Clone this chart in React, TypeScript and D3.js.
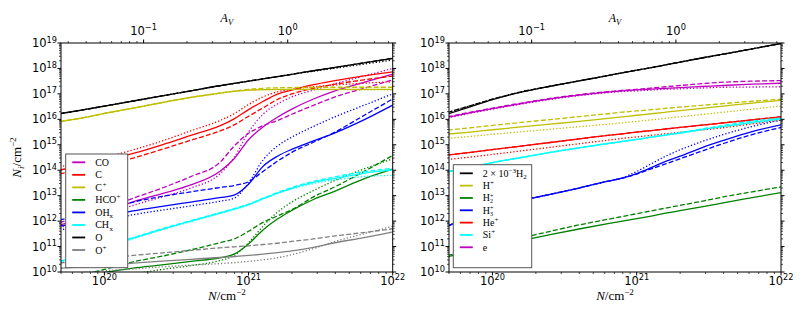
import React from 'react';
import * as d3 from 'd3';

// log10 of total column density N (cm^-2)
const LOG_N = [19.69, 19.85, 20.0, 20.2, 20.4, 20.6, 20.8, 20.9, 21.0, 21.1, 21.2, 21.3, 21.45, 21.6, 21.8, 22.0];

// ---- left panel: log10 N_i for solid / dashed / dotted models ----
const O_S = [16.22,16.37,16.52,16.72,16.92,17.12,17.32,17.41,17.50,17.59,17.68,17.77,17.91,18.04,18.22,18.40];
const O_D = [16.22,16.37,16.52,16.72,16.92,17.12,17.32,17.41,17.50,17.59,17.68,17.77,17.91,18.04,18.22,18.40];
const O_P = [16.22,16.37,16.52,16.72,16.92,17.12,17.32,17.41,17.50,17.59,17.68,17.77,17.89,18.01,18.17,18.33];

const CP_S = [15.91,16.06,16.23,16.44,16.66,16.86,17.03,17.10,17.15,17.17,17.18,17.18,17.18,17.18,17.18,17.18];
const CP_D = [15.91,16.06,16.23,16.44,16.66,16.86,17.03,17.11,17.18,17.22,17.24,17.25,17.26,17.26,17.26,17.26];
const CP_P = [15.91,16.06,16.23,16.44,16.66,16.86,17.03,17.10,17.14,17.16,17.17,17.17,17.17,17.17,17.16,17.16];

const C_S = [14.01,14.18,14.37,14.66,15.00,15.37,15.74,16.02,16.38,16.70,16.99,17.15,17.36,17.52,17.71,17.87];
const C_D = [13.86,14.02,14.20,14.48,14.82,15.18,15.54,15.78,16.12,16.45,16.78,17.00,17.22,17.38,17.55,17.70];
const C_P = [14.14,14.31,14.50,14.80,15.15,15.55,15.95,16.22,16.58,16.88,17.08,17.18,17.28,17.35,17.42,17.48];

const CO_S = [11.85,12.10,12.38,12.76,13.08,13.42,13.95,14.45,15.20,15.70,16.08,16.40,16.80,17.12,17.45,17.78];
const CO_D = [11.95,12.20,12.50,12.90,13.30,13.75,14.30,14.95,15.45,15.75,15.95,16.20,16.55,16.88,17.22,17.55];
const CO_P = [11.75,11.98,12.25,12.62,12.95,13.30,13.85,14.50,15.50,16.20,16.60,16.88,17.15,17.40,17.70,18.00];

const OH_S = [11.80,11.98,12.15,12.40,12.58,12.75,12.92,13.02,13.45,14.15,14.55,14.82,15.15,15.47,15.98,16.56];
const OH_D = [12.05,12.25,12.45,12.75,12.97,13.15,13.32,13.40,13.55,13.95,14.35,14.70,15.10,15.50,16.15,16.80];
const OH_P = [11.65,11.83,12.00,12.25,12.43,12.60,12.78,12.90,13.50,14.40,14.95,15.30,15.72,16.10,16.55,17.00];

const HCO_S = [9.70,9.85,9.98,10.15,10.28,10.42,10.56,10.70,11.10,11.65,12.08,12.42,12.85,13.18,13.66,14.04];
const HCO_D = [9.60,9.88,10.10,10.40,10.62,10.87,11.15,11.30,11.60,11.95,12.20,12.45,12.95,13.35,13.95,14.58];
const HCO_P = [9.30,9.50,9.70,9.92,10.10,10.25,10.45,10.65,11.15,11.80,12.35,12.75,13.20,13.60,14.05,14.45];

const CH_S = [10.40,10.68,10.96,11.33,11.68,12.00,12.31,12.47,12.65,12.88,13.10,13.29,13.52,13.68,13.88,14.01];
const CH_D = [10.42,10.70,10.98,11.35,11.70,12.02,12.33,12.49,12.67,12.90,13.12,13.32,13.56,13.74,13.94,14.07];
const CH_P = [10.38,10.66,10.94,11.31,11.66,11.98,12.29,12.45,12.63,12.86,13.08,13.26,13.48,13.62,13.75,13.80];

const OP_S = [10.15,10.20,10.25,10.35,10.43,10.50,10.57,10.61,10.65,10.70,10.76,10.83,10.97,11.15,11.35,11.58];
const OP_D = [10.35,10.45,10.52,10.65,10.75,10.85,10.95,10.99,11.03,11.08,11.13,11.20,11.30,11.42,11.55,11.70];
const OP_P = [9.90,9.98,10.05,10.12,10.20,10.27,10.33,10.37,10.42,10.48,10.56,10.68,10.92,11.20,11.50,11.80];

// ---- right panel ----
const H2_S = [16.21,16.50,16.77,17.07,17.30,17.51,17.72,17.83,17.93,18.03,18.14,18.25,18.41,18.56,18.77,18.98];
const H2_D = [16.27,16.54,16.79,17.08,17.30,17.51,17.72,17.83,17.93,18.03,18.14,18.25,18.41,18.56,18.77,18.98];
const H2_P = [16.27,16.54,16.79,17.08,17.30,17.51,17.72,17.83,17.93,18.03,18.14,18.25,18.41,18.56,18.77,18.98];

const E_S = [16.08,16.26,16.42,16.62,16.80,16.95,17.07,17.12,17.16,17.19,17.22,17.25,17.29,17.33,17.38,17.42];
const E_D = [16.10,16.28,16.44,16.64,16.82,16.97,17.09,17.14,17.18,17.23,17.28,17.33,17.40,17.46,17.50,17.52];
const E_P = [16.06,16.24,16.40,16.60,16.78,16.93,17.05,17.09,17.12,17.15,17.18,17.20,17.23,17.26,17.27,17.28];

const HP_S = [15.42,15.50,15.59,15.70,15.81,15.92,16.04,16.10,16.16,16.22,16.28,16.34,16.43,16.52,16.64,16.75];
const HP_D = [15.58,15.67,15.76,15.88,15.99,16.11,16.22,16.28,16.33,16.38,16.43,16.48,16.55,16.62,16.71,16.79];
const HP_P = [15.25,15.33,15.41,15.51,15.61,15.71,15.81,15.86,15.92,15.98,16.04,16.10,16.19,16.28,16.40,16.52];

const HEP_S = [14.60,14.70,14.81,14.95,15.09,15.23,15.37,15.43,15.50,15.56,15.62,15.68,15.77,15.86,15.98,16.10];
const HEP_D = [14.60,14.70,14.81,14.95,15.09,15.23,15.37,15.43,15.50,15.56,15.62,15.68,15.77,15.86,15.98,16.10];
const HEP_P = [14.42,14.52,14.62,14.76,14.90,15.04,15.18,15.25,15.31,15.37,15.43,15.49,15.58,15.67,15.82,15.97];

const SIP_S = [13.94,14.12,14.30,14.50,14.70,14.88,15.05,15.13,15.21,15.30,15.38,15.46,15.60,15.72,15.88,16.02];
const SIP_D = [13.94,14.12,14.30,14.50,14.70,14.88,15.05,15.13,15.21,15.30,15.39,15.48,15.62,15.76,15.93,16.05];
const SIP_P = [13.94,14.12,14.30,14.50,14.70,14.88,15.05,15.13,15.21,15.30,15.38,15.46,15.59,15.70,15.85,15.98];

const H3P_S = [11.80,12.20,12.45,12.80,13.05,13.30,13.57,13.69,13.87,14.10,14.35,14.55,14.88,15.17,15.52,15.78];
const H3P_D = [11.80,12.20,12.45,12.80,13.05,13.30,13.57,13.69,13.85,14.05,14.25,14.45,14.75,15.05,15.40,15.68];
const H3P_P = [11.80,12.20,12.45,12.80,13.05,13.30,13.57,13.70,13.95,14.25,14.55,14.80,15.12,15.40,15.72,15.97];

const H2P_S = [10.60,10.80,10.97,11.23,11.47,11.69,11.90,12.00,12.10,12.20,12.31,12.41,12.56,12.72,12.92,13.12];
const H2P_D = [10.65,10.86,11.05,11.33,11.60,11.85,12.07,12.18,12.29,12.40,12.51,12.62,12.78,12.95,13.15,13.35];

// tick values
const Y_MAJOR = [10, 11, 12, 13, 14, 15, 16, 17, 18, 19];
const X_MAJOR = [20, 21, 22];
const AV_MAJOR = [-1, 0];
const AV_FACTOR = 1.87e21;

const COL = {
  m: '#bf00bf', r: '#ff0000', y: '#bfbf00', g: '#008000',
  b: '#0000ff', c: '#00ffff', k: '#000000', gr: '#808080',
};

const LEFT_SERIES = [
  { color: COL.m, s: CO_S, d: CO_D, p: CO_P },
  { color: COL.r, s: C_S, d: C_D, p: C_P },
  { color: COL.y, s: CP_S, d: CP_D, p: CP_P },
  { color: COL.g, s: HCO_S, d: HCO_D, p: HCO_P },
  { color: COL.b, s: OH_S, d: OH_D, p: OH_P },
  { color: COL.c, s: CH_S, d: CH_D, p: CH_P },
  { color: COL.k, s: O_S, d: O_D, p: O_P },
  { color: COL.gr, s: OP_S, d: OP_D, p: OP_P },
];
const RIGHT_SERIES = [
  { color: COL.k, s: H2_S, d: H2_D, p: H2_P },
  { color: COL.y, s: HP_S, d: HP_D, p: HP_P },
  { color: COL.g, s: H2P_S, d: H2P_D, p: null },
  { color: COL.b, s: H3P_S, d: H3P_D, p: H3P_P },
  { color: COL.r, s: HEP_S, d: HEP_D, p: HEP_P },
  { color: COL.c, s: SIP_S, d: SIP_D, p: SIP_P },
  { color: COL.m, s: E_S, d: E_D, p: E_P },
];

const SERIF = '"Liberation Serif", "DejaVu Serif", serif';
const SANS = '"DejaVu Sans", sans-serif';

// legend labels: [main text, subscript, superscript]
const LEFT_LABELS: [string, string, string][] = [
  ['CO', '', ''], ['C', '', ''], ['C', '', '+'], ['HCO', '', '+'],
  ['OH', 'x', ''], ['CH', 'x', ''], ['O', '', ''], ['O', '', '+'],
];
const RIGHT_LABELS: [string, string, string][] = [
  ['2 × 10', '', ''], ['H', '', '+'], ['H', '2', '+'], ['H', '3', '+'],
  ['He', '', '+'], ['Si', '', '+'], ['e', '', ''],
];

function LegendLabel({ x, y, lab, first }: any) {
  const [main, sub, sp] = lab;
  if (first) {
    return (
      <text x={x} y={y} fontFamily={SERIF} fontSize={10}>
        2 × 10<tspan dy={-4} fontSize={7}>−3</tspan><tspan dy={4}>H</tspan><tspan dy={2.5} fontSize={7}>2</tspan>
      </text>
    );
  }
  const w = main.length === 1 ? 7.3 : main === 'He' ? 11.6 : main === 'Si' ? 8.4 : main.length * 7.1;
  const both = sub && sp;
  return (
    <g>
      <text x={x} y={y} fontFamily={SERIF} fontSize={10}>{main}</text>
      {sub ? <text x={x + w} y={y + (both ? 2 : 2.5)} fontFamily={SERIF} fontSize={both ? 6 : 7}>{sub}</text> : null}
      {sp ? <text x={x + w} y={y - (both ? 3.6 : 4)} fontFamily={SERIF} fontSize={both ? 6 : 7}>{sp}</text> : null}
    </g>
  );
}

const Y_TOP = 43;
const Y_BOT = 272;

function Panel({ x0, x1, series, labels, legend, id, firstSpecial }: any) {
  const x = d3.scaleLog().domain([5e19, 1e22]).range([x0, x1]);
  const xa = d3.scaleLog().domain([5e19 / AV_FACTOR, 1e22 / AV_FACTOR]).range([x0, x1]);
  const y = d3.scaleLog().domain([1e10, 1e19]).range([Y_BOT, Y_TOP]);
  const line = d3.line<number>()
    .x((_, i) => x(Math.pow(10, LOG_N[i])))
    .y((v) => y(Math.pow(10, v)))
    .curve(d3.curveMonotoneX);

  const yMinor: number[] = [];
  for (let e = 10; e < 19; e++) for (let k = 2; k <= 9; k++) yMinor.push(k * Math.pow(10, e));
  const xMinor: number[] = [];
  for (let e = 19; e < 22; e++) for (let k = 2; k <= 9; k++) {
    const v = k * Math.pow(10, e);
    if (v >= 5e19 && v <= 1e22) xMinor.push(v);
  }
  const [a0, a1] = xa.domain();
  const aMinor: number[] = [];
  for (let e = -2; e <= 0; e++) for (let k = 2; k <= 9; k++) {
    const v = k * Math.pow(10, e);
    if (v >= a0 && v <= a1) aMinor.push(v);
  }

  const styles = [
    { key: 's', dash: undefined },
    { key: 'd', dash: '5,2.2' },
    { key: 'p', dash: '1.3,2' },
  ];

  return (
    <g>
      <defs>
        <clipPath id={id}>
          <rect x={x0} y={Y_TOP} width={x1 - x0} height={Y_BOT - Y_TOP} />
        </clipPath>
      </defs>
      <g clipPath={`url(#${id})`}>
        {series.map((sr: any, i: number) =>
          styles.map((st) => sr[st.key] ? (
            <path key={i + st.key} d={line(sr[st.key]) || ''} fill="none" stroke={sr.color}
              strokeWidth={1.3} strokeDasharray={st.dash} />
          ) : null)
        )}
      </g>
      <rect x={x0} y={Y_TOP} width={x1 - x0} height={Y_BOT - Y_TOP} fill="none" stroke="#000" strokeWidth={1} />
      {Y_MAJOR.map((e) => (
        <g key={'ym' + e}>
          <line x1={x0 - 3.5} x2={x0} y1={y(Math.pow(10, e))} y2={y(Math.pow(10, e))} stroke="#000" />
          <line x1={x1} x2={x1 + 3.5} y1={y(Math.pow(10, e))} y2={y(Math.pow(10, e))} stroke="#000" />
          <text x={x0 - 4} y={y(Math.pow(10, e)) + 4} textAnchor="end" fontFamily={SANS} fontSize={11.5}>
            10<tspan dy={-4.5} fontSize={8.2}>{e}</tspan>
          </text>
        </g>
      ))}
      {yMinor.map((v, i) => (
        <g key={'yn' + i}>
          <line x1={x0 - 2} x2={x0} y1={y(v)} y2={y(v)} stroke="#000" strokeWidth={0.7} />
          <line x1={x1} x2={x1 + 2} y1={y(v)} y2={y(v)} stroke="#000" strokeWidth={0.7} />
        </g>
      ))}
      {X_MAJOR.map((e) => (
        <g key={'xm' + e}>
          <line x1={x(Math.pow(10, e))} x2={x(Math.pow(10, e))} y1={Y_BOT} y2={Y_BOT + 3.5} stroke="#000" />
          <text x={x(Math.pow(10, e))} y={284.5} textAnchor="middle" fontFamily={SANS} fontSize={11.5}>
            10<tspan dy={-4.5} fontSize={8.2}>{e}</tspan>
          </text>
        </g>
      ))}
      {xMinor.map((v, i) => (
        <line key={'xn' + i} x1={x(v)} x2={x(v)} y1={Y_BOT} y2={Y_BOT + 2} stroke="#000" strokeWidth={0.7} />
      ))}
      {AV_MAJOR.map((e) => (
        <g key={'am' + e}>
          <line x1={xa(Math.pow(10, e))} x2={xa(Math.pow(10, e))} y1={Y_TOP - 3.5} y2={Y_TOP} stroke="#000" />
          <text x={xa(Math.pow(10, e))} y={34.5} textAnchor="middle" fontFamily={SANS} fontSize={11.5}>
            10<tspan dy={-4.5} fontSize={8.2}>{e < 0 ? '−' + Math.abs(e) : String(e)}</tspan>
          </text>
        </g>
      ))}
      {aMinor.map((v, i) => (
        <line key={'an' + i} x1={xa(v)} x2={xa(v)} y1={Y_TOP - 2} y2={Y_TOP} stroke="#000" strokeWidth={0.7} />
      ))}
      <text x={(x0 + x1) / 2} y={22} textAnchor="middle" fontFamily={SERIF} fontSize={12} fontStyle="italic">
        A<tspan dy={2.5} fontSize={8.5}>V</tspan>
      </text>
      <text x={(x0 + x1) / 2} y={300} textAnchor="middle" fontFamily={SERIF} fontSize={13}>
        <tspan fontStyle="italic">N</tspan>/cm<tspan dy={-5} fontSize={9}>−2</tspan>
      </text>
      <rect x={legend.x} y={legend.y} width={legend.w} height={legend.h} fill="#fff" stroke="#555" strokeWidth={1} />
      {series.map((sr: any, i: number) => {
        const yy = legend.y0 + i * legend.dy;
        return (
          <g key={'lg' + i}>
            <line x1={legend.x + 6.5} x2={legend.x + 19.5} y1={yy} y2={yy} stroke={sr.color} strokeWidth={1.8} />
            <LegendLabel x={legend.x + 29.5} y={yy + 3.5} lab={labels[i]} first={firstSpecial && i === 0} />
          </g>
        );
      })}
    </g>
  );
}

export default function App() {
  return (
    <svg width={806} height={322} style={{ position: 'absolute', left: 0, top: 0, background: '#fff' }}>
      <rect width={806} height={322} fill="#fff" />
      <Panel id="clipL" x0={61} x1={392.7} series={LEFT_SERIES} labels={LEFT_LABELS} firstSpecial={false}
        legend={{ x: 65.7, y: 154, w: 62, h: 113.7, y0: 162.3, dy: 12.53 }} />
      <Panel id="clipR" x0={449} x1={781} series={RIGHT_SERIES} labels={RIGHT_LABELS} firstSpecial={true}
        legend={{ x: 453.3, y: 164.7, w: 78.4, h: 103, y0: 173.3, dy: 12.33 }} />
      <text transform="translate(21,157.5) rotate(-90)" textAnchor="middle" fontFamily={SERIF} fontSize={13}>
        <tspan fontStyle="italic">N</tspan><tspan dy={3} fontSize={9} fontStyle="italic">i</tspan>
        <tspan dy={-3}>/cm</tspan><tspan dy={-5} fontSize={9}>−2</tspan>
      </text>
    </svg>
  );
}
